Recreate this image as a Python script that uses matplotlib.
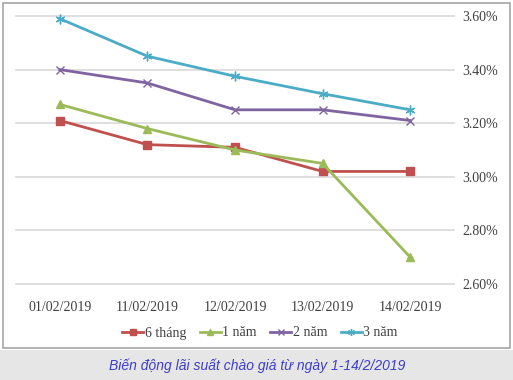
import matplotlib.pyplot as plt
from matplotlib.patches import Rectangle
from matplotlib.ticker import FuncFormatter

# ------------------------------ data ------------------------------
dates = ["01/02/2019", "11/02/2019", "12/02/2019", "13/02/2019", "14/02/2019"]
six_months = [3.21, 3.12, 3.11, 3.02, 3.02]
one_year = [3.27, 3.18, 3.10, 3.05, 2.70]
two_years = [3.40, 3.35, 3.25, 3.25, 3.21]
three_years = [3.59, 3.45, 3.375, 3.31, 3.25]
series_names = ["6 tháng", "1 năm", "2 năm", "3 năm"]
caption = "Biến động lãi suất chào giá từ ngày 1-14/2/2019"

W, H = 513, 380
fig = plt.figure(figsize=(W / 100, H / 100), dpi=100)

# outer frame and caption band
fig.patches.append(Rectangle((3 / W, 1 - 348 / H), 507 / W, 345 / H, transform=fig.transFigure,
                             facecolor="white", edgecolor="#a6a6a6", linewidth=1.2, zorder=-2))
fig.patches.append(Rectangle((0, 0), 1, 30 / H, transform=fig.transFigure,
                             facecolor="#e6e6e6", edgecolor="none", zorder=-2))
fig.text(257 / W, 1 - 366 / H, caption, ha="center", va="center", color="#3d3dcc",
         fontsize=10, style="italic", family="Liberation Sans")

ax = fig.add_axes([16 / W, 1 - 284 / H, 438 / W, 268 / H])
ax.set_facecolor("none")

x = range(len(dates))
styles = [
    (six_months, "#c0504d", dict(marker="s", markersize=5.5)),
    (one_year, "#9bbb59", dict(marker="^", markersize=5.5)),
    (two_years, "#8064a2", dict(marker="x", markersize=6, markeredgewidth=1)),
    (three_years, "#4bacc6", dict(marker=(6, 2, 0), markersize=7, markeredgewidth=1)),
]
for (vals, col, mk), name in zip(styles, series_names):
    ax.plot(x, vals, color=col, linewidth=2, label=name, clip_on=False, **mk)

ax.set_xlim(-0.5, len(dates) - 0.5)
ax.set_ylim(2.6, 3.6)
ax.set_yticks([2.6, 2.8, 3.0, 3.2, 3.4, 3.6])
ax.yaxis.set_major_formatter(FuncFormatter(lambda v, p: "%.2f%%" % v))
ax.yaxis.tick_right()
ax.set_xticks(list(x))
ax.set_xticklabels(dates)
ax.grid(axis="y", color="#d9d9d9", linewidth=1.2, clip_on=False)
ax.set_axisbelow(True)
for s in ax.spines.values():
    s.set_visible(False)
ax.tick_params(length=0, labelsize=10, labelcolor="#404040", labelfontfamily="Liberation Serif")
ax.tick_params(axis="y", pad=6)
ax.tick_params(axis="x", pad=12)

leg = fig.legend(loc="center", bbox_to_anchor=(260 / W, 1 - 333 / H), ncol=4, frameon=False,
                 prop={"family": "Liberation Serif", "size": 10}, handlelength=1.5,
                 handletextpad=0.1, columnspacing=1.0, markerscale=0.7)
for t in leg.get_texts():
    t.set_color("#404040")

fig.savefig("out.png", dpi=100)
